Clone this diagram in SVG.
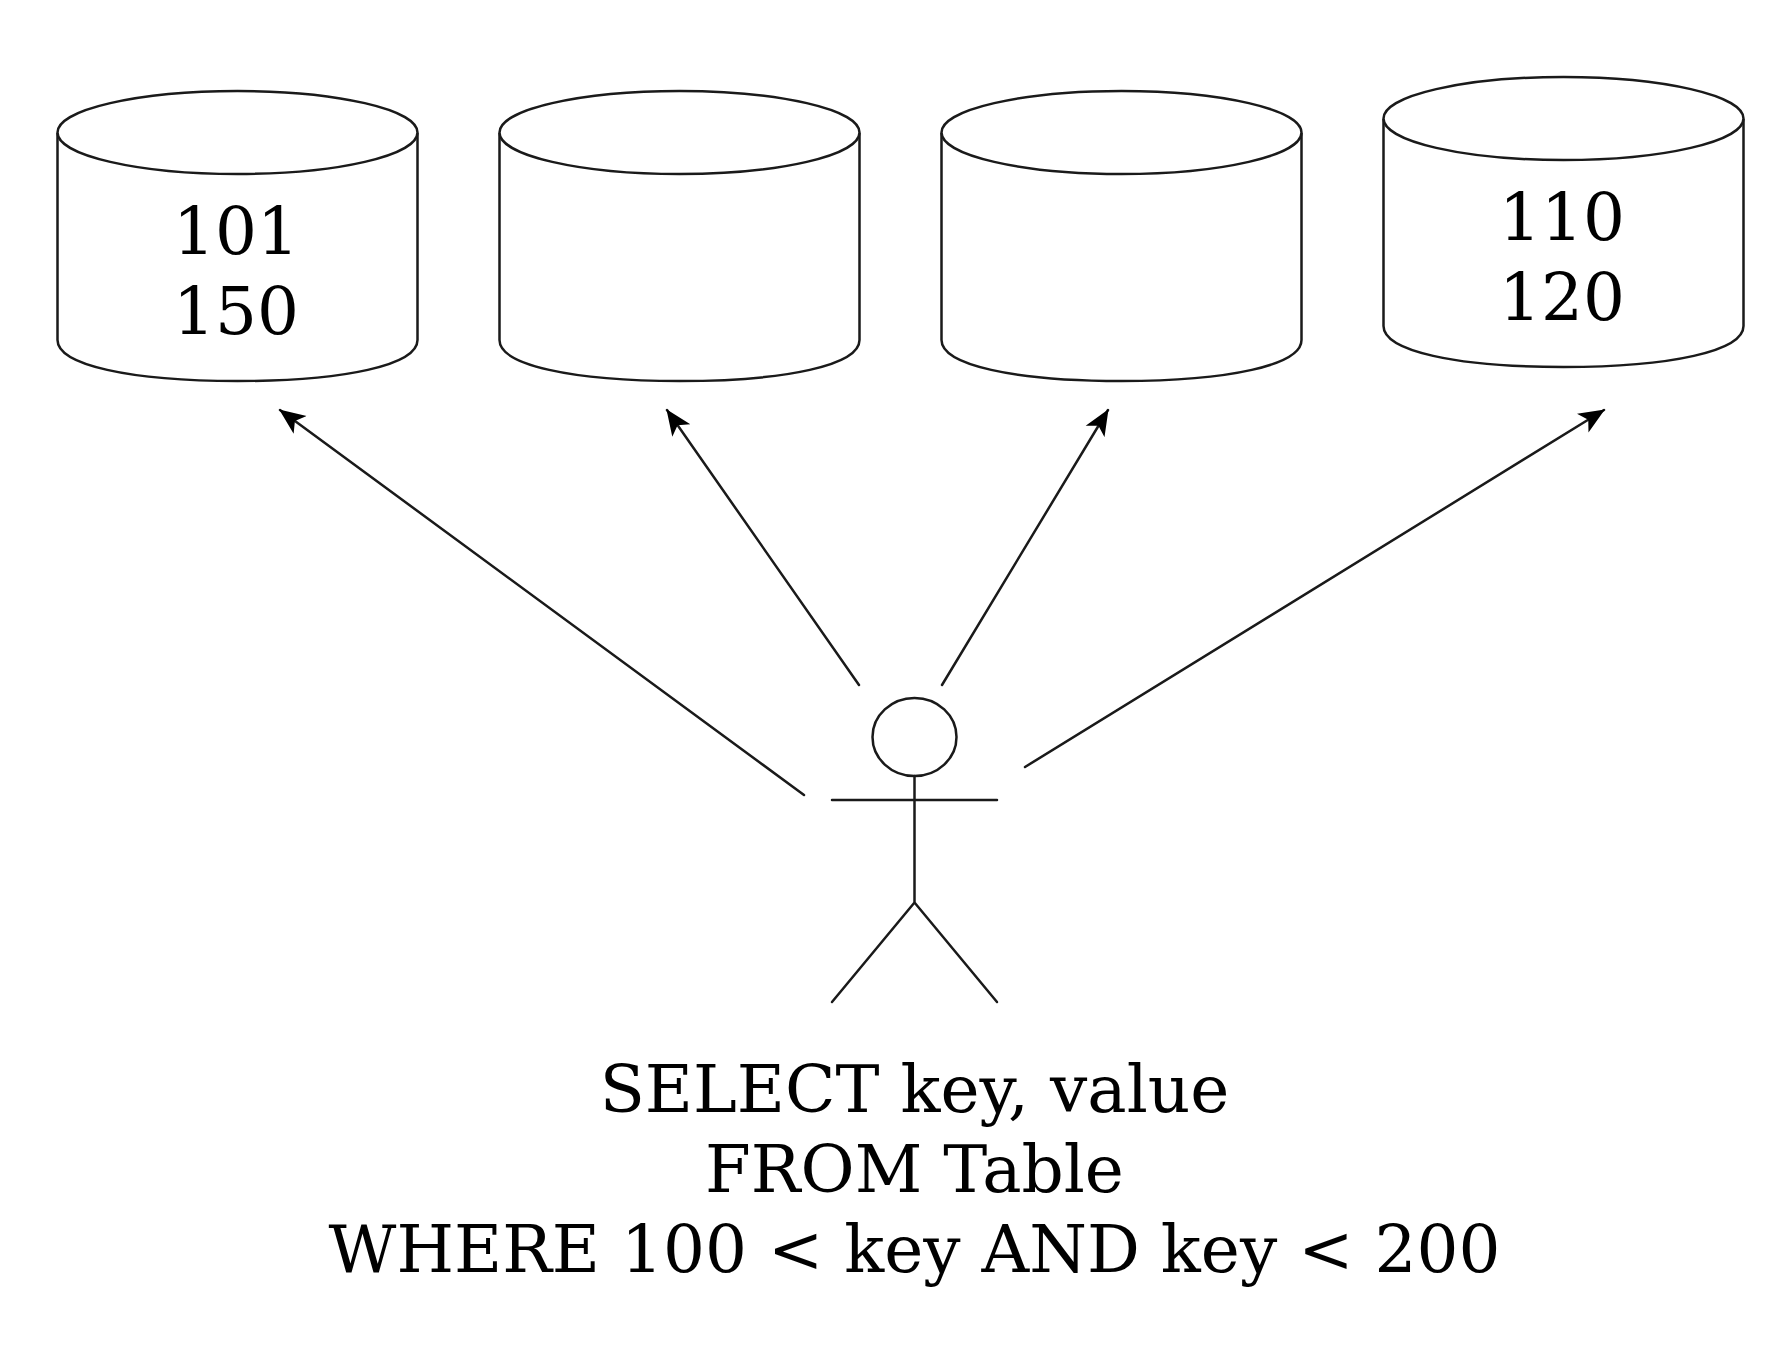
<svg xmlns="http://www.w3.org/2000/svg" width="1788" height="1356" viewBox="0 0 1788 1356">
<defs>
<style>
.s{fill:none;stroke:#1a1a1a;stroke-width:2.5;stroke-linecap:round}
.b{fill:#fff;stroke:#1a1a1a;stroke-width:2.5}
text{font-family:"DejaVu Serif",serif;fill:#000;text-anchor:middle;font-size:66px}
</style>
<marker id="a" markerUnits="userSpaceOnUse" markerWidth="30" markerHeight="24" refX="25" refY="11" orient="auto" viewBox="0 0 30 22"><path d="M0 0L26 11L0 22L6.500 11Z" fill="#000"/></marker>
<g id="cyl"><path class="b" d="M57.500 133V340C57.500 365 130 381 237.500 381S417.500 365 417.500 340V133"/><ellipse class="b" cx="237.500" cy="132.500" rx="180" ry="41.500"/></g>
</defs>
<rect width="1788" height="1356" fill="#fff"/>
<g id="db1"><use href="#cyl"/><text x="236" y="254">101</text><text x="236" y="334">150</text></g>
<g id="db2"><use href="#cyl" x="442"/></g>
<g id="db3"><use href="#cyl" x="884"/></g>
<g id="db4"><use href="#cyl" x="1326" y="-14"/><text x="1562" y="240">110</text><text x="1562" y="320">120</text></g>
<g id="user"><ellipse class="s" cx="914.500" cy="737" rx="42" ry="39"/><path class="s" d="M914.500 776V902.500M832 800H997M914.500 902.500L832 1002M914.500 902.500L997 1002"/></g>
<g id="connectors">
<path class="s" marker-end="url(#a)" d="M804 795L280 410"/>
<path class="s" marker-end="url(#a)" d="M859 685L667 410"/>
<path class="s" marker-end="url(#a)" d="M942 685L1108 410"/>
<path class="s" marker-end="url(#a)" d="M1025 767L1604 410"/>
</g>
<g id="query"><text x="914.500" y="1112">SELECT key, value</text><text x="914.500" y="1192">FROM Table</text><text x="914.500" y="1272">WHERE 100 &lt; key AND key &lt; 200</text></g>
</svg>
